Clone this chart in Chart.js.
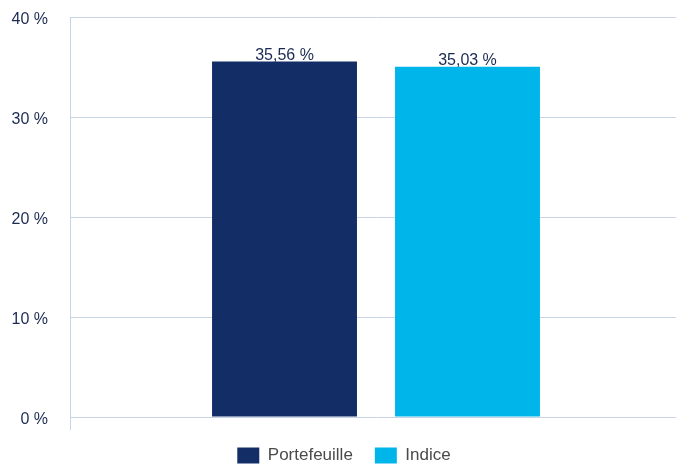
<!DOCTYPE html>
<html>
<head>
<meta charset="utf-8">
<script src="https://cdn.jsdelivr.net/npm/chart.js@4.4.1/dist/chart.umd.min.js"></script>
<style>
html,body{margin:0;padding:0;background:#fff;overflow:hidden;width:676px;height:464px;}
#wrap{width:682px;height:474px;position:relative;}
</style>
</head>
<body>
<div id="wrap"><canvas id="c"></canvas></div>
<script>
const categories = [""];
const seriesNames = ["Portefeuille", "Indice"];
const portefeuille = [35.56];
const indice = [35.03];
const yTicks = [0, 10, 20, 30, 40];

const textColor = "#1b2a52";
const gridColor = "#c7d4e6";
const fontFam = "'Liberation Sans', Arial, sans-serif";

function fmt(v){ return v.toFixed(2).replace(".", ",") + " %"; }

const labelPlugin = {
  id: "barLabels",
  afterDatasetsDraw(chart){
    const ctx = chart.ctx;
    ctx.save();
    ctx.font = "16px " + fontFam;
    ctx.fillStyle = textColor;
    ctx.textAlign = "center";
    ctx.textBaseline = "bottom";
    chart.data.datasets.forEach((ds, i) => {
      const meta = chart.getDatasetMeta(i);
      meta.data.forEach((bar, j) => {
        ctx.fillText(fmt(ds.data[j]), bar.x, bar.y + 2);
      });
    });
    ctx.restore();
  }
};

new Chart(document.getElementById("c"), {
  type: "bar",
  data: {
    labels: categories,
    datasets: [
      { label: seriesNames[0], data: portefeuille, backgroundColor: "#132e67",
        categoryPercentage: 0.598, barPercentage: 0.792 },
      { label: seriesNames[1], data: indice, backgroundColor: "#00b5ea",
        categoryPercentage: 0.598, barPercentage: 0.792 }
    ]
  },
  options: {
    responsive: true,
    maintainAspectRatio: false,
    animation: false,
    layout: { padding: { top: 17, right: 0, left: 6, bottom: 0 } },
    plugins: {
      legend: {
        position: "bottom",
        labels: {
          boxWidth: 22, boxHeight: 16, padding: 22,
          color: "#4a4a4a",
          font: { family: fontFam, size: 17 }
        }
      },
      tooltip: { enabled: false }
    },
    scales: {
      x: {
        afterFit(scale){ scale.height = 8; },
        ticks: { display: false },
        grid: { drawOnChartArea: false, color: gridColor, tickLength: 13, lineWidth: 1 },
        border: { display: false }
      },
      y: {
        min: 0, max: 40,
        afterFit(scale){ scale.width = 64; scale.paddingTop = 0; scale.paddingBottom = 0; },
        afterBuildTicks(scale){ scale.ticks = yTicks.map(v => ({ value: v })); },
        ticks: {
          padding: 22,
          labelOffset: 3,
          color: textColor,
          font: { family: fontFam, size: 16 },
          callback: v => v + " %"
        },
        grid: { color: gridColor, drawTicks: false, lineWidth: 1 },
        border: { color: gridColor }
      }
    }
  },
  plugins: [labelPlugin]
});
</script>
</body>
</html>
